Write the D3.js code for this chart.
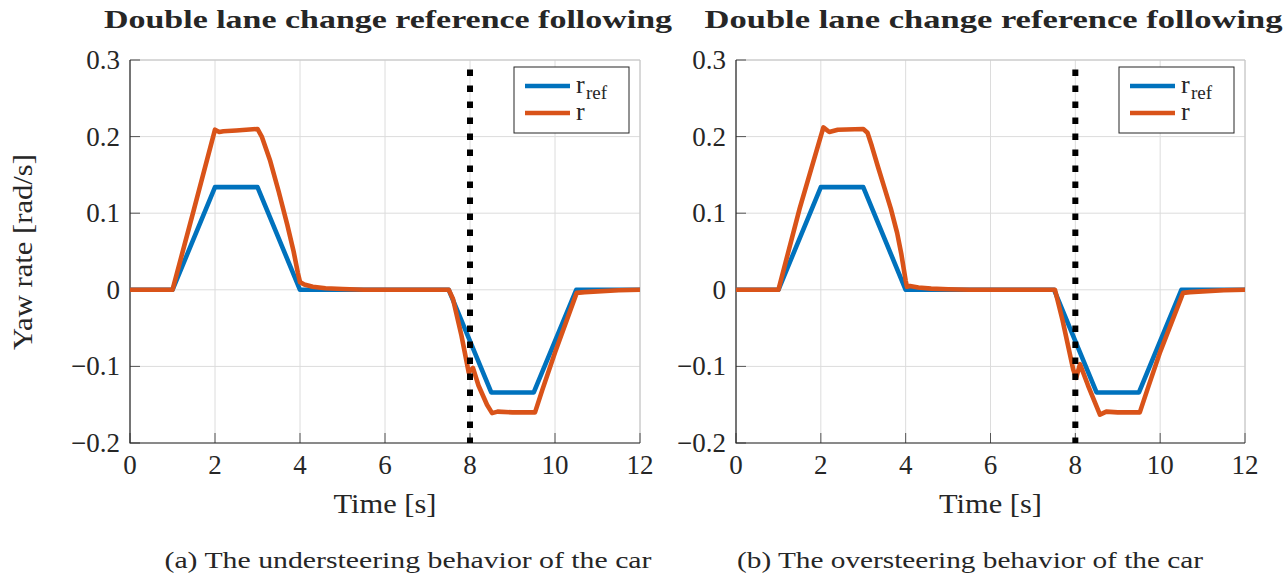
<!DOCTYPE html>
<html><head><meta charset="utf-8">
<script src="https://cdn.jsdelivr.net/npm/d3@7"></script>
<style>body{margin:0;background:#fff}svg{display:block}text{font-family:"Liberation Serif","Times New Roman",serif;fill:#262626}</style>
</head><body><svg id="c" width="1288" height="581"></svg>
<script>
const timeRef = [0, 1, 2, 3, 4, 7.5, 8.5, 9.5, 10.5, 12];
const yawRef  = [0, 0, 0.134, 0.134, 0, 0, -0.134, -0.134, 0, 0];

const timeUnder = [0, 1.0, 1.5, 2.0, 2.1, 2.2, 2.5, 3.0, 3.1, 3.3, 3.5, 3.7, 3.85, 3.95, 4.0, 4.1, 4.3, 4.6, 5.0, 5.5, 7.5, 7.6, 7.8, 7.97, 8.07, 8.2, 8.4, 8.52, 8.65, 9.0, 9.53, 9.7, 10.0, 10.51, 10.7, 11.0, 11.5, 12];
const yawUnder  = [0, 0, 0.104, 0.209, 0.206, 0.207, 0.208, 0.210, 0.200, 0.168, 0.128, 0.085, 0.050, 0.022, 0.010, 0.007, 0.004, 0.002, 0.001, 0, 0, -0.012, -0.060, -0.108, -0.102, -0.125, -0.150, -0.161, -0.159, -0.160, -0.160, -0.131, -0.082, -0.004, -0.003, -0.002, -0.0005, 0];

const timeOver = [0, 1.0, 1.5, 2.06, 2.2, 2.4, 3.0, 3.1, 3.2, 3.35, 3.5, 3.65, 3.8, 3.9, 4.0, 4.03, 4.1, 4.3, 4.6, 5.0, 5.5, 7.52, 7.7, 7.95, 8.02, 8.11, 8.3, 8.58, 8.73, 9.0, 9.52, 9.7, 10.0, 10.54, 10.7, 11.0, 11.5, 12];
const yawOver  = [0, 0, 0.106, 0.212, 0.206, 0.209, 0.210, 0.205, 0.188, 0.160, 0.133, 0.106, 0.074, 0.046, 0.012, 0.004, 0.005, 0.003, 0.0015, 0.0008, 0, 0, -0.040, -0.104, -0.115, -0.097, -0.125, -0.163, -0.159, -0.160, -0.160, -0.130, -0.081, -0.004, -0.003, -0.002, -0.0005, 0];

const xTicks = [0, 2, 4, 6, 8, 10, 12];
const yTicks = [-0.2, -0.1, 0, 0.1, 0.2, 0.3];
const xTickLabels = ["0", "2", "4", "6", "8", "10", "12"];
const yTickLabels = ["\u22120.2", "\u22120.1", "0", "0.1", "0.2", "0.3"];
const markerTime = 8;
const titles = ["Double lane change reference following", "Double lane change reference following"];
const captions = ["(a) The understeering behavior of the car", "(b) The oversteering behavior of the car"];
const xLabel = "Time [s]";
const yLabel = "Yaw rate [rad/s]";

const svg = d3.select("#c");
const BLUE = "#0072BD", ORANGE = "#D95319";

const panels = [
  {x0: 130, x1: 640, t: timeUnder, v: yawUnder, title: titles[0], cap: captions[0], capX: 408, capW: 487, ylab: true, titleW: 568},
  {x0: 736, x1: 1245, t: timeOver, v: yawOver, title: titles[1], cap: captions[1], capX: 970, capW: 466, ylab: false, titleW: 578}
];
const yTop = 60, yBot = 443;

panels.forEach(p => {
  const x = d3.scaleLinear().domain([0, 12]).range([p.x0, p.x1]);
  const y = d3.scaleLinear().domain([-0.2, 0.3]).range([yBot, yTop]);
  const g = svg.append("g");
  g.selectAll(".gx").data(xTicks).join("line")
    .attr("x1", d => x(d)).attr("x2", d => x(d)).attr("y1", yTop).attr("y2", yBot)
    .attr("stroke", "#dcdcdc").attr("stroke-width", 1);
  g.selectAll(".gy").data(yTicks).join("line")
    .attr("y1", d => y(d)).attr("y2", d => y(d)).attr("x1", p.x0).attr("x2", p.x1)
    .attr("stroke", "#dcdcdc").attr("stroke-width", 1);
  g.append("path").attr("d", `M${p.x0},${yTop}H${p.x1}V${yBot}`).attr("fill", "none").attr("stroke", "#c4c4c4").attr("stroke-width", 1);
  g.selectAll(".tx").data(xTicks).join("line")
    .attr("x1", d => x(d)).attr("x2", d => x(d)).attr("y1", yBot).attr("y2", yBot - 10)
    .attr("stroke", "#555").attr("stroke-width", 1);
  g.selectAll(".ty").data(yTicks).join("line")
    .attr("y1", d => y(d)).attr("y2", d => y(d)).attr("x1", p.x0).attr("x2", p.x0 + 10)
    .attr("stroke", "#555").attr("stroke-width", 1);
  g.append("path").attr("d", `M${p.x0},${yTop}V${yBot}H${p.x1}`).attr("fill", "none").attr("stroke", "#262626").attr("stroke-width", 1.2);
  g.selectAll(".lx").data(xTicks).join("text")
    .attr("x", d => x(d)).attr("y", yBot + 31).attr("text-anchor", "middle").attr("font-size", 27)
    .text((d, i) => xTickLabels[i]);
  g.selectAll(".ly").data(yTicks).join("text")
    .attr("x", p.x0 - 10).attr("y", d => y(d) + 9).attr("text-anchor", "end").attr("font-size", 27)
    .text((d, i) => yTickLabels[i]);

  const line = d3.line().x(d => x(d[0])).y(d => y(d[1]));
  const clip = "clip" + p.x0;
  svg.append("clipPath").attr("id", clip).append("rect").attr("x", p.x0).attr("y", yTop - 3).attr("width", p.x1 - p.x0).attr("height", yBot - yTop + 3);
  const cg = g.append("g").attr("clip-path", `url(#${clip})`);
  cg.append("path").datum(d3.zip(timeRef, yawRef)).attr("d", line)
    .attr("fill", "none").attr("stroke", BLUE).attr("stroke-width", 4.6).attr("stroke-linejoin", "round");
  cg.append("path").datum(d3.zip(p.t, p.v)).attr("d", line)
    .attr("fill", "none").attr("stroke", ORANGE).attr("stroke-width", 4.6).attr("stroke-linejoin", "round");
  cg.append("line").attr("x1", x(markerTime)).attr("x2", x(markerTime)).attr("y1", yBot).attr("y2", yTop)
    .attr("stroke", "#000").attr("stroke-width", 6).attr("stroke-dasharray", "6.5,9.5").attr("stroke-dashoffset", 1);

  const lx = p.x1 - 126, ly = 67;
  const lg = g.append("g");
  lg.append("rect").attr("x", lx).attr("y", ly).attr("width", 115).attr("height", 66)
    .attr("fill", "#fff").attr("stroke", "#262626").attr("stroke-width", 1);
  [[BLUE, 19], [ORANGE, 46]].forEach(([c, dy]) => {
    lg.append("line").attr("x1", lx + 11).attr("x2", lx + 56).attr("y1", ly + dy).attr("y2", ly + dy)
      .attr("stroke", c).attr("stroke-width", 4.6);
  });
  lg.append("text").attr("x", lx + 62).attr("y", ly + 26).attr("font-size", 26).text("r");
  lg.append("text").attr("x", lx + 72).attr("y", ly + 32).attr("font-size", 19).text("ref");
  lg.append("text").attr("x", lx + 62).attr("y", ly + 53).attr("font-size", 26).text("r");

  svg.append("text").attr("x", (p.x0 + p.x1) / 2 + 3).attr("y", 28).attr("text-anchor", "middle")
    .attr("font-size", 25).attr("font-weight", "bold").attr("fill", "#000")
    .attr("textLength", p.titleW).attr("lengthAdjust", "spacingAndGlyphs").text(p.title);
  svg.append("text").attr("x", (p.x0 + p.x1) / 2).attr("y", 513).attr("text-anchor", "middle")
    .attr("font-size", 28).attr("textLength", 103).attr("lengthAdjust", "spacingAndGlyphs").text(xLabel);
  svg.append("text").attr("x", p.capX).attr("y", 568).attr("text-anchor", "middle")
    .attr("font-size", 24).attr("fill", "#000").attr("textLength", p.capW).attr("lengthAdjust", "spacingAndGlyphs").text(p.cap);
  if (p.ylab) {
    svg.append("text").attr("transform", "translate(32,252) rotate(-90)").attr("text-anchor", "middle")
      .attr("font-size", 28).attr("textLength", 196).attr("lengthAdjust", "spacingAndGlyphs").text(yLabel);
  }
});
</script></body></html>
